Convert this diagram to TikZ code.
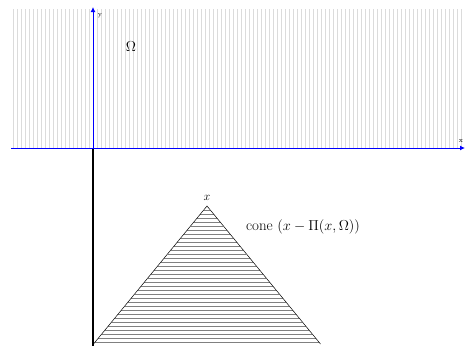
\documentclass[tikz,border=0pt]{standalone}
\usetikzlibrary{arrows.meta}
\begin{document}
\begin{tikzpicture}[x=1pt,y=-1pt,
  hatchv/.style={black!14,line width=0.8pt},
  hatchh/.style={black!50,line width=0.5pt},
  axis/.style={blue,line width=1pt,-{Latex[length=5pt,width=5pt]}},
  lbl/.style={inner sep=0pt}]
\useasboundingbox (0,0) rectangle (466,346);
% region Omega: vertical gray lines
\foreach \i in {13,17,...,463} \draw[hatchv] (\i,9) -- (\i,148);
% cone hatching
\foreach \yy in {210,214,...,342} {
  \pgfmathsetmacro{\hw}{(\yy-206)/138*113.5}
  \draw[hatchh] ({207-\hw},\yy) -- ({207+\hw},\yy);
}
\coordinate (apex) at (207,206);
\coordinate (bl) at (93.5,344);
\coordinate (br) at (320.5,344);
\draw[black,line width=0.5pt] (bl) -- (apex) -- (br);
% thick black ray
\coordinate (o) at (93,148);
\coordinate (ob) at (93,346);
\draw[black,line width=2.2pt] (o) -- (ob);
% axes
\coordinate (xl) at (11,148);
\coordinate (xr) at (465,148);
\coordinate (yt) at (93,7);
\draw[axis] (xl) -- (xr);
\draw[axis] (o) -- (yt);
\node[lbl,font=\fontsize{7}{8}\selectfont] (ylab) at (100,16) {y};
\node[lbl,font=\fontsize{7}{8}\selectfont] (xlab) at (461,141) {x};
\node[lbl,font=\fontsize{14}{16}\selectfont] (om) at (131,47) {$\Omega$};
\node[lbl,font=\fontsize{13}{15}\selectfont] (xap) at (207,198) {$x$};
\node[lbl,font=\fontsize{15}{17}\selectfont] (cone) at (303,227) {cone $(x-\Pi(x,\Omega))$};
\end{tikzpicture}
\end{document}
